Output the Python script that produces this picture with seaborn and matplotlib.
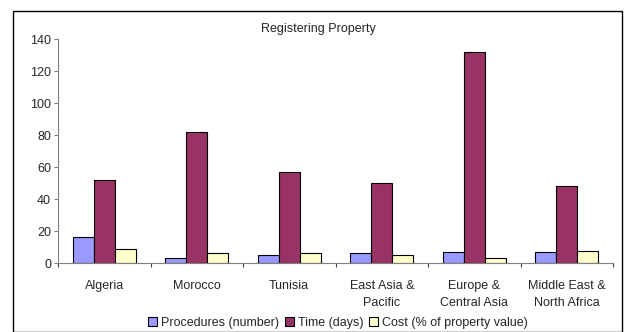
import pandas as pd
import seaborn as sns
import matplotlib.pyplot as plt
from matplotlib.patches import Rectangle

categories = ['Algeria', 'Morocco', 'Tunisia', 'East Asia &\nPacific',
              'Europe &\nCentral Asia', 'Middle East &\nNorth Africa']
procedures = [16, 3, 5, 6, 6.6, 6.6]
time_days = [52, 82, 57, 50, 132, 48]
cost = [9, 6.5, 6.5, 5, 3.3, 7.5]
series = ['Procedures (number)', 'Time (days)', 'Cost (% of property value)']
colors = ['#9999FF', '#993366', '#FFFFCC']

df = pd.DataFrame({
    'category': categories * 3,
    'series': [series[0]] * 6 + [series[1]] * 6 + [series[2]] * 6,
    'value': procedures + time_days + cost,
})

sns.set_style('white')
plt.rcParams['font.family'] = ['Liberation Sans', 'DejaVu Sans']
fs = 9

fig = plt.figure(figsize=(6.24, 3.32), dpi=100)
ax = fig.add_axes([58 / 624, 1 - 263 / 332, 555 / 624, 224 / 332])

sns.barplot(data=df, x='category', y='value', hue='series', palette=colors,
            saturation=1, width=0.68, edgecolor='black', linewidth=0.8,
            ax=ax, legend=True)

ax.set_ylim(0, 140)
ax.set_xlim(-0.5, 5.5)
ax.set_yticks(range(0, 141, 20))
ax.set_xlabel('')
ax.set_ylabel('')
ax.tick_params(axis='y', labelsize=fs, length=3, width=0.8, color='#808080',
               direction='out', left=True, pad=2)
ax.set_xticks(range(6))
ax.set_xticklabels(categories, linespacing=1.55, va='top')
ax.tick_params(axis='x', labelsize=fs, length=0, pad=12)
ax.set_xticks([i + 0.5 for i in range(-1, 6)], minor=True)
ax.tick_params(axis='x', which='minor', length=3, width=0.8, color='#404040',
               direction='out', bottom=True)
for s in ['top', 'right']:
    ax.spines[s].set_visible(False)
for s in ['left', 'bottom']:
    ax.spines[s].set_color('#808080')
    ax.spines[s].set_linewidth(0.8)

fig.text(318 / 624, 1 - 29 / 332, 'Registering Property', ha='center',
         va='center', fontsize=fs)

handles, labels = ax.get_legend_handles_labels()
ax.legend(handles, labels, loc='center', bbox_to_anchor=(338 / 624, 1 - 323 / 332),
          bbox_transform=fig.transFigure, ncol=3, frameon=False, fontsize=fs,
          handlelength=0.7, handleheight=0.7, handletextpad=0.3,
          columnspacing=0.5, borderpad=0)

fig.patches.append(Rectangle((13 / 624, 0), 609 / 624, 321.5 / 332,
                             transform=fig.transFigure, fill=False,
                             edgecolor='black', linewidth=1))

fig.savefig('out.png', dpi=100)
